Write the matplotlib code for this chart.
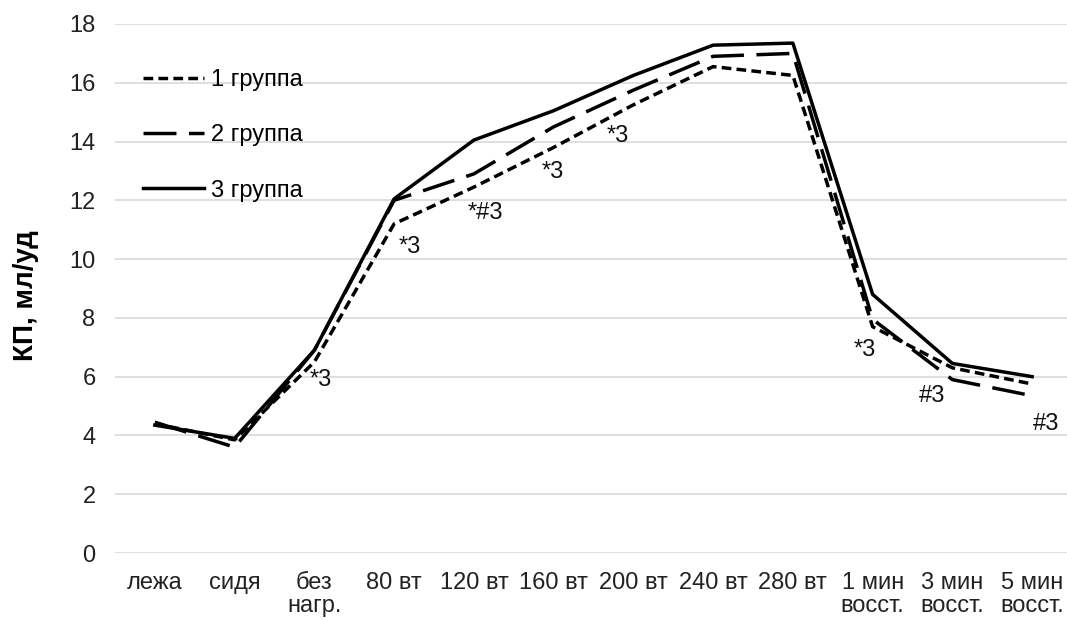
import matplotlib
matplotlib.use("Agg")
import matplotlib.pyplot as plt

plt.rcParams["font.family"] = ["Liberation Sans", "DejaVu Sans"]

categories = ["лежа", "сидя", "без\nнагр.", "80 вт", "120 вт", "160 вт", "200 вт",
              "240 вт", "280 вт", "1 мин\nвосст.", "3 мин\nвосст.", "5 мин\nвосст."]
group1 = [4.4, 3.85, 6.5, 11.2, 12.45, 13.8, 15.25, 16.55, 16.25, 7.7, 6.3, 5.75]
group2 = [4.45, 3.6, 6.9, 12.0, 12.9, 14.5, 15.75, 16.9, 17.0, 7.95, 5.9, 5.35]
group3 = [4.35, 3.9, 6.9, 12.05, 14.05, 15.05, 16.25, 17.28, 17.35, 8.8, 6.45, 6.0]

# significance marks: (x index, y value, text)
marks_x = [3.2, 4.15, 4.99, 5.8, 2.08, 8.9, 9.75, 11.18]
marks_y = [10.4, 11.56, 12.96, 14.2, 5.88, 6.9, 5.34, 4.39]
marks_txt = ["*3", "*#3", "*3", "*3", "*3", "*3", "#3", "#3"]


def main() -> None:
    fig = plt.figure(figsize=(10.67, 6.21), dpi=100)
    ax = fig.add_axes([115 / 1067, 68 / 621, 957 / 1067, 529 / 621])

    x = list(range(len(categories)))
    lw = 2.5
    ax.plot(x, group1, color="black", lw=lw, linestyle=(0, (2.8, 1.5)), label="1 группа", zorder=3)
    ax.plot(x, group2, color="black", lw=lw, linestyle=(0, (9.5, 3.6)), label="2 группа", zorder=3)
    ax.plot(x, group3, color="black", lw=lw, linestyle="-", label="3 группа", zorder=3)

    for mx, my, mt in zip(marks_x, marks_y, marks_txt):
        ax.text(mx, my, mt, ha="center", va="center", fontsize=17, color="#111111")

    ax.set_xlim(-0.5, 11.5)
    ax.set_ylim(0, 18)
    ax.set_yticks(range(0, 19, 2))
    ax.set_xticks(x)
    ax.set_xticklabels(categories, fontsize=17, color="#222222", linespacing=1.05)
    ax.tick_params(axis="y", labelsize=17, labelcolor="#222222", length=0, pad=14)
    ax.tick_params(axis="x", length=0, pad=14)
    ax.grid(axis="y", color="#d9d9d9", lw=1.2)
    ax.set_axisbelow(True)
    for s in ax.spines.values():
        s.set_visible(False)

    ax.set_ylabel("КП, мл/уд", fontsize=20, fontweight="bold")
    ax.yaxis.set_label_coords(-76 / 957, (553 - 296) / 529)

    ax.legend(loc="upper left", bbox_to_anchor=(0.029, 0.915), frameon=False, fontsize=17,
              handlelength=2.6, handletextpad=0.3, labelspacing=1.41,
              borderpad=0, borderaxespad=0)

    fig.savefig("out.png", dpi=100)
    plt.close(fig)


if __name__ == "__main__":
    main()
